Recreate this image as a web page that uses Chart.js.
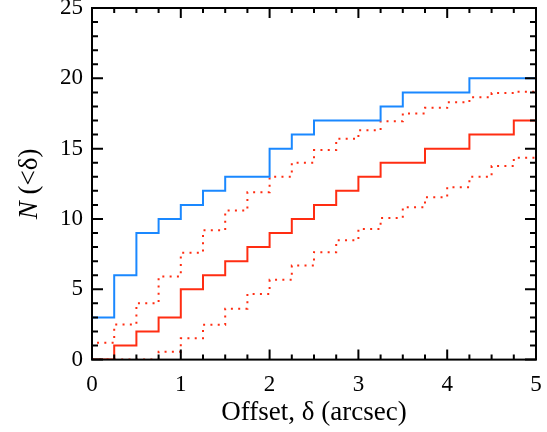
<!DOCTYPE html>
<html>
<head>
<meta charset="utf-8">
<script src="https://cdn.jsdelivr.net/npm/chart.js@4.4.1/dist/chart.umd.min.js"></script>
<style>
  html, body { margin: 0; padding: 0; background: #fff; }
</style>
</head>
<body>
<canvas id="chart" width="547" height="432"></canvas>
<script>
// left edge of each offset bin (arcsec); the last bin closes at xEnd
const binStarts = [0, 0.25, 0.5, 0.75, 1, 1.25, 1.5, 1.75, 2, 2.25,
                   2.5, 2.75, 3, 3.25, 3.5, 3.75, 4, 4.25, 4.5, 4.75];
const xEnd = 5;

// cumulative counts N(<delta)
const observed  = [3, 6, 9, 10, 11, 12, 13, 13, 15, 16, 17, 17, 17, 18, 19, 19, 19, 20, 20, 20];
const randomMean = [0, 1, 2, 3, 5, 6, 7, 8, 9, 10, 11, 12, 13, 14, 14, 15, 15, 16, 16, 17];
const randomHigh = [1.2, 2.5, 4.0, 5.9, 7.6, 9.2, 10.6, 11.9, 13.0, 14.0,
                    14.9, 15.7, 16.3, 16.95, 17.5, 17.9, 18.3, 18.65, 18.95, 19.05];
const randomLow  = [0, 0, 0, 0.55, 1.52, 2.48, 3.62, 4.67, 5.67, 6.69,
                    7.64, 8.48, 9.29, 10.07, 10.84, 11.55, 12.26, 13.0, 13.76, 14.36];

const xTicks = [0, 1, 2, 3, 4, 5];
const yTicks = [0, 5, 10, 15, 20, 25];

const BLUE = '#1a88ff';
const RED = '#ff2d12';
const FONT = "'Liberation Serif', 'Times New Roman', serif";

// turn a list of bin values into points for a step line
function stepPoints(vals) {
  const pts = [{x: 0, y: 0}];
  vals.forEach((v, i) => pts.push({x: binStarts[i], y: v}));
  pts.push({x: xEnd, y: vals[vals.length - 1]});
  return pts;
}

// box frame with inward ticks on all four sides, IDL style
const frameTicks = {
  id: 'frameTicks',
  afterDatasetsDraw(chart) {
    const {ctx, chartArea: a, scales: {x, y}} = chart;
    ctx.save();
    ctx.strokeStyle = '#000';
    ctx.lineWidth = 2;
    ctx.strokeRect(a.left, a.top, a.right - a.left, a.bottom - a.top);
    ctx.beginPath();
    for (let v = 0; v <= 5.0001; v += 0.25) {
      const px = x.getPixelForValue(v);
      const len = Math.abs(v - Math.round(v)) < 1e-6 ? 10 : 5;
      ctx.moveTo(px, a.bottom); ctx.lineTo(px, a.bottom - len);
      ctx.moveTo(px, a.top); ctx.lineTo(px, a.top + len);
    }
    for (let v = 0; v <= 25; v += 1) {
      const py = y.getPixelForValue(v);
      const len = v % 5 === 0 ? 11 : 6;
      ctx.moveTo(a.left, py); ctx.lineTo(a.left + len, py);
      ctx.moveTo(a.right, py); ctx.lineTo(a.right - len, py);
    }
    ctx.stroke();
    ctx.restore();
  },
  afterDraw(chart) {
    // y title with italic N
    const {ctx, chartArea: a} = chart;
    ctx.save();
    ctx.translate(30, (a.top + a.bottom) / 2);
    ctx.rotate(-Math.PI / 2);
    ctx.fillStyle = '#000';
    ctx.textBaseline = 'middle';
    const f1 = 'italic 27px ' + FONT, f2 = '27px ' + FONT;
    ctx.font = f1; const w1 = ctx.measureText('N').width;
    ctx.font = f2; const w2 = ctx.measureText(' (<δ)').width;
    let sx = -(w1 + w2) / 2;
    ctx.font = f1; ctx.fillText('N', sx, 0);
    ctx.font = f2; ctx.fillText(' (<δ)', sx + w1, 0);
    ctx.restore();
  }
};

const lineStyle = {stepped: 'before', pointRadius: 0, fill: false, borderWidth: 2};

new Chart(document.getElementById('chart'), {
  type: 'line',
  data: {
    datasets: [
      {label: 'observed', data: stepPoints(observed), borderColor: BLUE, ...lineStyle},
      {label: 'random', data: stepPoints(randomMean), borderColor: RED, ...lineStyle},
      {label: 'random +1σ', data: stepPoints(randomHigh), borderColor: RED, borderDash: [2, 5.3], ...lineStyle},
      {label: 'random -1σ', data: stepPoints(randomLow), borderColor: RED, borderDash: [2, 5.3], ...lineStyle}
    ]
  },
  options: {
    responsive: false,
    animation: false,
    devicePixelRatio: 1,
    layout: {padding: {left: 51, right: 11, top: 8, bottom: 5}},
    plugins: {legend: {display: false}, tooltip: {enabled: false}},
    scales: {
      x: {
        type: 'linear', min: 0, max: 5,
        grid: {display: false, drawTicks: false},
        border: {display: false},
        afterBuildTicks: s => { s.ticks = xTicks.map(v => ({value: v})); },
        afterFit: s => { s.paddingLeft = 0; s.paddingRight = 0; },
        ticks: {color: '#000', padding: 14, maxRotation: 0, font: {family: FONT, size: 23, lineHeight: 1}},
        title: {display: true, text: 'Offset, δ (arcsec)', color: '#000',
                font: {family: FONT, size: 27}, padding: {top: -14, bottom: -2}}
      },
      y: {
        type: 'linear', min: 0, max: 25,
        grid: {display: false, drawTicks: false},
        border: {display: false},
        afterBuildTicks: s => { s.ticks = yTicks.map(v => ({value: v})); },
        afterFit: s => { s.paddingTop = 0; s.paddingBottom = 0; },
        ticks: {color: '#000', padding: 9, font: {family: FONT, size: 23}}
      }
    }
  },
  plugins: [frameTicks]
});
</script>
</body>
</html>
